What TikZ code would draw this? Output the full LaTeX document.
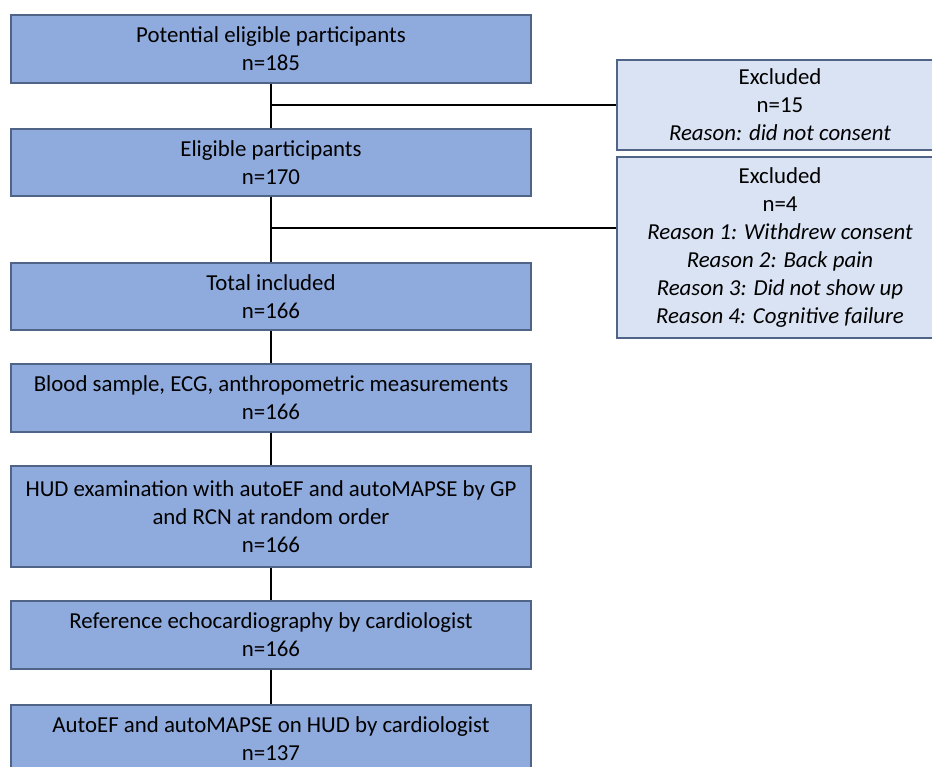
\documentclass[tikz,border=0pt]{standalone}
\usepackage{fontspec}
\setmainfont{Carlito}
\usetikzlibrary{positioning}

\definecolor{stepfill}{RGB}{143,170,220}
\definecolor{exclfill}{RGB}{218,227,243}
\definecolor{boxline}{RGB}{80,100,135}

\begin{document}
\begin{tikzpicture}[
  x=0.03cm, y=-0.03cm,
  stepbox/.style={draw=boxline, line width=1pt, fill=stepfill, align=center,
    minimum width=15.6cm, inner sep=0pt,
    font=\fontsize{19.5}{23.9}\selectfont},
  exclbox/.style={stepbox, fill=exclfill, minimum width=9.78cm},
  link/.style={line width=2pt}
]
  \useasboundingbox (0,0) rectangle (932,767);
  \clip (0,0) rectangle (932,767);

  % Main column
  \node[stepbox, minimum height=2.04cm] (pot) at (271,49)
    {Potential eligible participants\\n=185};
  \node[stepbox, minimum height=2.01cm] (elig) at (271,162.5)
    {Eligible participants\\n=170};
  \node[stepbox, minimum height=2.01cm] (incl) at (271,296.5)
    {Total included\\n=166};
  \node[stepbox, minimum height=2.04cm] (blood) at (271,398)
    {Blood sample, ECG, anthropometric measurements\\n=166};
  \node[stepbox, minimum height=3.03cm] (hud) at (271,516.5)
    {HUD examination with autoEF and autoMAPSE by GP\\and RCN at random order\\n=166};
  \node[stepbox, minimum height=2.04cm] (echo) at (271,635)
    {Reference echocardiography by cardiologist\\n=166};
  \node[stepbox, minimum height=2.04cm] (auto) at (271,739)
    {AutoEF and autoMAPSE on HUD by cardiologist\\n=137};

  % Exclusions
  \node[exclbox, minimum height=2.7cm] (excl1) at (780,105)
    {Excluded\\n=15\\\textit{Reason: did not consent}};
  \node[exclbox, minimum height=5.43cm] (excl2) at (780,247.5)
    {Excluded\\n=4\\\textit{Reason 1: Withdrew consent}\\\textit{Reason 2: Back pain}\\
     \textit{Reason 3: Did not show up}\\\textit{Reason 4: Cognitive failure}};

  % Lines
  \coordinate (split1) at (271,105);
  \coordinate (split2) at (271,228);
  \draw[link] (pot) -- (elig);
  \draw[link] (elig) -- (incl);
  \draw[link] (incl) -- (blood);
  \draw[link] (blood) -- (hud);
  \draw[link] (hud) -- (echo);
  \draw[link] (echo) -- (auto);
  \draw[link] (split1) -- (split1 -| excl1.west);
  \draw[link] (split2) -- (split2 -| excl2.west);
\end{tikzpicture}
\end{document}
